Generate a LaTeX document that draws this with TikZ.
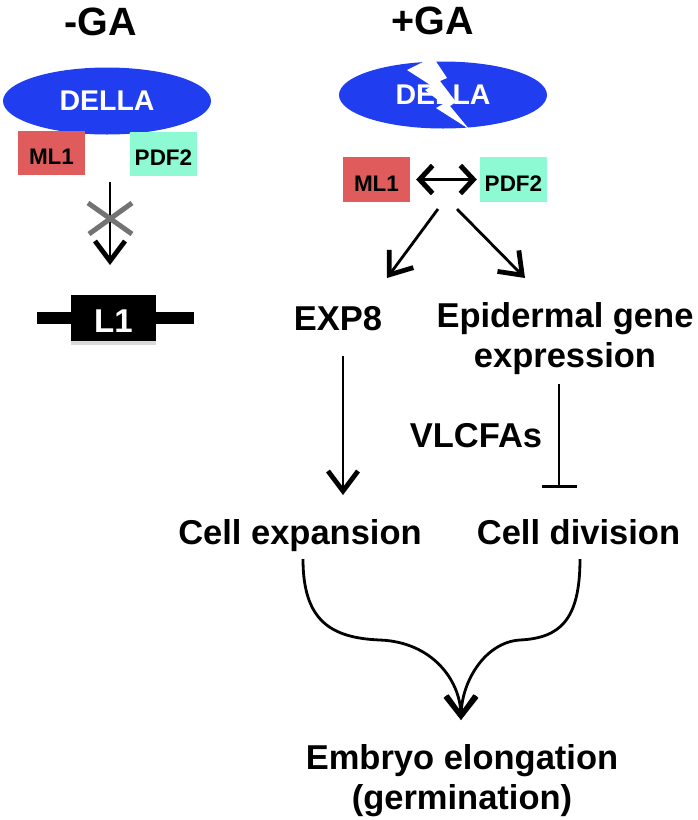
\documentclass[tikz,border=0pt]{standalone}
\usepackage{fontspec}
\setmainfont{Liberation Sans}
\usetikzlibrary{arrows.meta,shapes.geometric,shadows}
\definecolor{dellablue}{RGB}{32,62,240}
\definecolor{mlred}{RGB}{224,92,92}
\definecolor{pdfgreen}{RGB}{142,250,212}
\definecolor{xgray}{RGB}{115,115,115}
\begin{document}
\begin{tikzpicture}[x=1pt,y=-1pt,
  big/.style={font=\bfseries\fontsize{39.5}{44}\selectfont, inner sep=0pt, anchor=base},
  lbl/.style={font=\bfseries\fontsize{34.5}{40}\selectfont, inner sep=0pt, anchor=base},
  lbltwo/.style={font=\bfseries\fontsize{34.5}{40}\selectfont, inner sep=0pt, align=center},
  della/.style={ellipse, fill=dellablue, text=white, minimum width=208pt, minimum height=67pt, inner sep=0pt, font=\bfseries\fontsize{28.5}{32}\selectfont},
  protbox/.style={rectangle, minimum width=67pt, minimum height=44.5pt, inner sep=0pt, text height=23.5pt, text depth=0pt, font=\bfseries\fontsize{22.5}{26}\selectfont},
  arr/.style={line width=2.8pt, -{Straight Barb[length=20pt,width=30pt,line width=4.8pt]}},
  dbl/.style={line width=2.8pt, {Straight Barb[length=13pt,width=28pt,line width=5pt]}-{Straight Barb[length=13pt,width=28pt,line width=5pt]}},
  inh/.style={line width=2.8pt, -{Bar[width=35pt,line width=2.8pt]}},
  cross/.style={line width=5pt, draw=xgray}
]
\useasboundingbox (0,0) rectangle (697,820);

% ---------- -GA ----------
\node[big] (minusga) at (101,35) {-GA};
\node[della] (dellaL) at (107,101) {DELLA};
\node[protbox, fill=mlred] (mlL) at (51.5,153) {ML1};
\node[protbox, fill=pdfgreen] (pdfL) at (163.5,154) {PDF2};

\coordinate (blkA) at (110,182);
\coordinate (blkB) at (110,265);
\draw[arr] (blkA) -- (blkB);
\coordinate (xm) at (110,218);
\draw[cross] ([xshift=-22pt,yshift=15pt]xm) -- ([xshift=22pt,yshift=-16pt]xm);
\draw[cross] ([xshift=-21pt,yshift=-16pt]xm) -- ([xshift=22pt,yshift=15pt]xm);

\node[fill=black, minimum width=157pt, minimum height=12pt, inner sep=0pt] (geneline) at (115.5,318) {};
\node[fill=black, text=white, minimum width=85pt, minimum height=46pt, inner sep=0pt,
      text height=28.6pt, text depth=0pt, font=\bfseries\fontsize{33}{38}\selectfont,
      drop shadow={shadow xshift=0pt, shadow yshift=-4pt, opacity=0.3}] (l1) at (113.5,318) {L1};

% ---------- +GA ----------
\node[big] (plusga) at (432.5,34) {+GA};
\node[della] (dellaR) at (443,95) {DELLA};
\fill[white] (407,70) -- (433,57) -- (447,78) -- (440,81) -- (456,102) -- (450,106)
  -- (469,129) -- (436,108) -- (443,104) -- (425,90) -- (432,86) -- cycle;
\node[protbox, fill=mlred] (mlR) at (376.5,179.5) {ML1};
\node[protbox, fill=pdfgreen] (pdfR) at (513.5,179.5) {PDF2};
\draw[dbl] ([xshift=6pt]mlR.east) -- ([xshift=-3pt]pdfR.west);

\coordinate (fl) at (438,209);
\coordinate (fr) at (457,209);
\coordinate (tl) at (387,278);
\coordinate (tr) at (525,278);
\draw[arr] (fl) -- (tl);
\draw[arr] (fr) -- (tr);

\node[lbl] (exp8) at (338,330) {EXP8};
\node[lbltwo] (epi) at (565,339) {Epidermal gene\\expression};

\coordinate (e8b) at (343,356);
\coordinate (cet) at (343,495);
\draw[arr] (e8b) -- (cet);

\coordinate (epb) at (559,384);
\coordinate (cdt) at (559,488);
\draw[inh] (epb) -- (cdt);
\node[lbl] (vlcfa) at (476,447) {VLCFAs};

\node[lbl] (cellexp) at (300,544) {Cell expansion};
\node[lbl] (celldiv) at (578.5,544) {Cell division};

\coordinate (cel) at (303,559);
\coordinate (cdl) at (580,559);
\coordinate (tip) at (461,720);
\draw[arr] (cel) .. controls (303,620) and (330,638) .. (380,640)
  .. controls (432,642) and (460,680) .. (tip);
\draw[arr] (cdl) .. controls (580,620) and (560,638) .. (520,640)
  .. controls (486,642) and (462,680) .. (tip);

\node[lbltwo] (embryo) at (462,781) {Embryo elongation\\(germination)};
\end{tikzpicture}
\end{document}
